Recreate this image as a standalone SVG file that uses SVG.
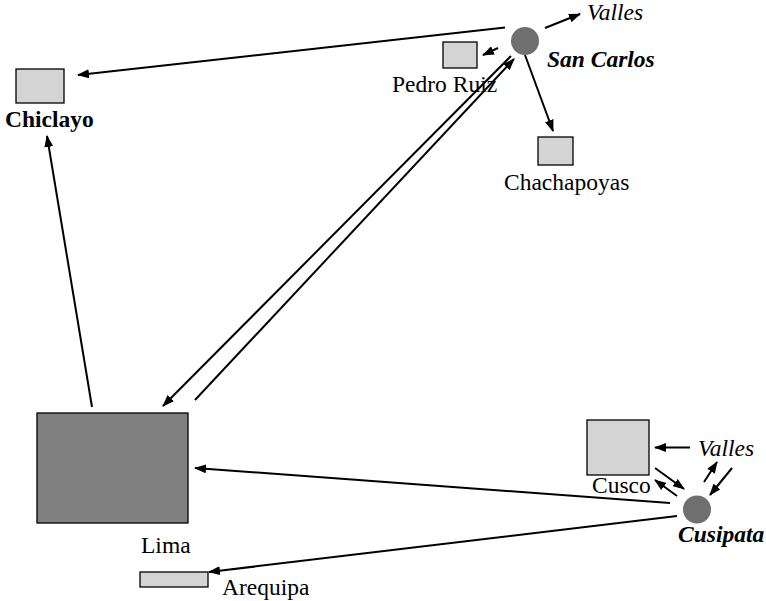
<svg xmlns="http://www.w3.org/2000/svg" width="766" height="601" viewBox="0 0 766 601">
<defs>
<marker id="ah" markerUnits="userSpaceOnUse" markerWidth="12" markerHeight="9" refX="11" refY="4.5" orient="auto">
<path d="M0,0 L12,4.5 L0,9 z" fill="#000"/>
</marker>
<style>
.box{fill:#d4d4d4;stroke:#000;stroke-width:1.3}
.city{fill:#808080;stroke:#000;stroke-width:1.3}
.hub{fill:#6f6f6f}
.t{font-family:"Liberation Serif","Times New Roman",serif;font-size:23.5px;fill:#000}
.b{font-weight:bold}
.i{font-style:italic}
.c line{stroke:#000;stroke-width:2;marker-end:url(#ah)}
</style>
</defs>
<rect width="766" height="601" fill="#fff"/>
<g class="c" id="connectors">
<line x1="505" y1="27.5" x2="78" y2="75"/>
<line x1="92" y1="407" x2="47" y2="136"/>
<line x1="511" y1="56" x2="163" y2="406"/>
<line x1="195" y1="400" x2="514" y2="59"/>
<line x1="545" y1="28" x2="580" y2="14"/>
<line x1="498" y1="48" x2="483" y2="55"/>
<line x1="525" y1="55" x2="553" y2="131"/>
<line x1="670" y1="503" x2="195" y2="468"/>
<line x1="677" y1="516" x2="209" y2="572"/>
<line x1="690" y1="447.5" x2="655" y2="447.5"/>
<line x1="655" y1="468" x2="684" y2="489"/>
<line x1="677" y1="496" x2="655" y2="480"/>
<line x1="704" y1="482" x2="717" y2="462"/>
<line x1="732" y1="468" x2="710" y2="495"/>
</g>
<g id="chiclayo"><rect class="box" x="16" y="69" width="48" height="34"/><text class="t b" x="5" y="127">Chiclayo</text></g>
<g id="pedro-ruiz"><rect class="box" x="443" y="42" width="34" height="26"/><text class="t" x="392" y="92">Pedro Ruiz</text></g>
<g id="san-carlos"><circle class="hub" cx="525" cy="41" r="14"/><text class="t b i" x="547" y="67">San Carlos</text></g>
<g id="valles-1"><text class="t i" x="587" y="20">Valles</text></g>
<g id="chachapoyas"><rect class="box" x="538" y="137" width="35" height="28"/><text class="t" x="504" y="190">Chachapoyas</text></g>
<g id="lima"><rect class="city" x="37" y="413" width="151" height="110"/><text class="t" x="141" y="553">Lima</text></g>
<g id="arequipa"><rect class="box" x="140" y="572" width="68" height="15"/><text class="t" x="222" y="595">Arequipa</text></g>
<g id="cusco"><rect class="box" x="587" y="420" width="62" height="55"/><text class="t" x="592" y="493">Cusco</text></g>
<g id="valles-2"><text class="t i" x="698" y="456">Valles</text></g>
<g id="cusipata"><circle class="hub" cx="697" cy="509.5" r="14"/><text class="t b i" x="678" y="542">Cusipata</text></g>
</svg>
